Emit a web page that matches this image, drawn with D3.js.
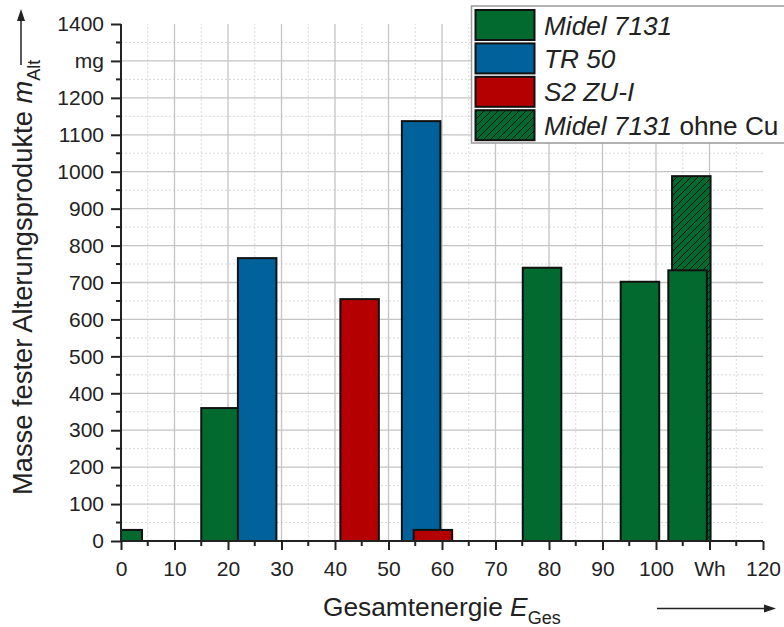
<!DOCTYPE html>
<html>
<head>
<meta charset="utf-8">
<script src="https://cdn.jsdelivr.net/npm/d3@7"></script>
<style>
  html, body { margin: 0; padding: 0; background: #fff; }
  svg { display: block; font-family: "Liberation Sans", Arial, sans-serif; }
</style>
</head>
<body>
<svg id="chart" width="784" height="627"></svg>
<script>
// Mass of solid ageing products vs. total energy, per insulating liquid
const midelEnergy = [0.33, 18.6, 78.7, 97.0, 105.9];
const midelMass   = [30, 360, 740, 702, 733];
const tr50Energy  = [25.45, 56.1];
const tr50Mass    = [766, 1137];
const s2Energy    = [44.6, 58.3];
const s2Mass      = [655, 30];
const midelNoCuEnergy = [106.6];
const midelNoCuMass   = [988];
const barWidthWh = 7.2;

const xTickValues = [0, 10, 20, 30, 40, 50, 60, 70, 80, 90, 100, 110, 120];
const xTickLabels = ["0", "10", "20", "30", "40", "50", "60", "70", "80", "90", "100", "Wh", "120"];
const yTickValues = [0, 100, 200, 300, 400, 500, 600, 700, 800, 900, 1000, 1100, 1200, 1300, 1400];
const yTickLabels = ["0", "100", "200", "300", "400", "500", "600", "700", "800", "900", "1000", "1100", "1200", "mg", "1400"];

const legendItems = [
  { key: "midel", name: "Midel 7131", extra: "" },
  { key: "tr50", name: "TR 50", extra: "" },
  { key: "s2", name: "S2 ZU-I", extra: "" },
  { key: "nocu", name: "Midel 7131", extra: " ohne Cu" }
];

const colors = { midel: "#036a2f", tr50: "#01619a", s2: "#b40000" };
const FONT = "'Liberation Sans', Arial, sans-serif";

const svg = d3.select("#chart");
const x = d3.scaleLinear().domain([0, 120]).range([121, 763]);
const y = d3.scaleLinear().domain([0, 1400]).range([541, 24]);

const defs = svg.append("defs");
const pat = defs.append("pattern")
  .attr("id", "hatch").attr("patternUnits", "userSpaceOnUse")
  .attr("width", 7).attr("height", 7);
pat.append("rect").attr("width", 7).attr("height", 7).attr("fill", colors.midel);
pat.append("path")
  .attr("d", "M-1.75,1.75 l3.5,-3.5 M0,7 l7,-7 M5.25,8.75 l3.5,-3.5")
  .attr("stroke", "#111").attr("stroke-width", 1);

defs.append("clipPath").attr("id", "plotClip")
  .append("rect").attr("x", x(0)).attr("y", 0).attr("width", x(120) - x(0)).attr("height", y(0) + 2);

// Grid
const grid = svg.append("g");
const minorX = d3.range(5, 120, 10);
const majorX = d3.range(10, 120, 10);
const minorY = d3.range(50, 1400, 100);
const majorY = d3.range(100, 1400, 100);
grid.selectAll(".mx").data(minorX).join("line")
  .attr("x1", d => x(d)).attr("x2", d => x(d)).attr("y1", y(0)).attr("y2", y(1400))
  .attr("stroke", "#d9d9d9").attr("stroke-width", 1).attr("stroke-dasharray", "2,2");
grid.selectAll(".my").data(minorY).join("line")
  .attr("x1", x(0)).attr("x2", x(120)).attr("y1", d => y(d)).attr("y2", d => y(d))
  .attr("stroke", "#d9d9d9").attr("stroke-width", 1).attr("stroke-dasharray", "2,2");
grid.selectAll(".Mx").data(majorX).join("line")
  .attr("x1", d => x(d)).attr("x2", d => x(d)).attr("y1", y(0)).attr("y2", y(1400))
  .attr("stroke", "#c4c4c4").attr("stroke-width", 1.3);
grid.selectAll(".My").data(majorY).join("line")
  .attr("x1", x(0)).attr("x2", x(120)).attr("y1", d => y(d)).attr("y2", d => y(d))
  .attr("stroke", "#c4c4c4").attr("stroke-width", 1.3);

// Bars
const bars = svg.append("g").attr("clip-path", "url(#plotClip)");
function drawBars(energy, mass, fill) {
  const data = energy.map((e, i) => ({ e, m: mass[i] }));
  bars.append("g").selectAll("rect").data(data).join("rect")
    .attr("x", d => x(d.e - barWidthWh / 2))
    .attr("width", d => x(d.e + barWidthWh / 2) - x(d.e - barWidthWh / 2))
    .attr("y", d => y(d.m))
    .attr("height", d => y(0) - y(d.m))
    .attr("fill", fill)
    .attr("stroke", "#111").attr("stroke-width", 2);
}
drawBars(midelNoCuEnergy, midelNoCuMass, "url(#hatch)");
drawBars(midelEnergy, midelMass, colors.midel);
drawBars(tr50Energy, tr50Mass, colors.tr50);
drawBars(s2Energy, s2Mass, colors.s2);

// Axes
const xAxis = svg.append("g").attr("transform", `translate(0,${y(0)})`)
  .call(d3.axisBottom(x).tickValues(xTickValues).tickSize(9).tickPadding(11)
    .tickFormat((d, i) => xTickLabels[i]));
xAxis.append("g").selectAll("line").data(d3.range(5, 120, 10)).join("line")
  .attr("x1", d => x(d)).attr("x2", d => x(d)).attr("y1", 0).attr("y2", 5)
  .attr("stroke", "#222").attr("stroke-width", 2);

const yAxis = svg.append("g").attr("transform", `translate(${x(0)},0)`)
  .call(d3.axisLeft(y).tickValues(yTickValues).tickSize(10).tickPadding(7)
    .tickFormat((d, i) => yTickLabels[i]));
yAxis.append("g").selectAll("line").data(d3.range(50, 1400, 100)).join("line")
  .attr("x1", 0).attr("x2", -5).attr("y1", d => y(d)).attr("y2", d => y(d))
  .attr("stroke", "#222").attr("stroke-width", 2);

[xAxis, yAxis].forEach(a => {
  a.attr("font-family", FONT).attr("font-size", 21);
  a.select(".domain").attr("stroke", "#222").attr("stroke-width", 2)
    .attr("d", a === xAxis ? `M${x(0)},0H${x(120)}` : `M0,${y(0)}V${y(1400)}`);
  a.selectAll(".tick line").attr("stroke", "#222").attr("stroke-width", 2);
  a.selectAll(".tick text").attr("fill", "#222");
});
xAxis.selectAll(".tick text").attr("dy", 0).attr("y", 35);

// Axis titles
const xt = svg.append("text").attr("x", 323).attr("y", 615.5)
  .attr("font-size", 26.3).attr("fill", "#222");
xt.append("tspan").text("Gesamtenergie ");
xt.append("tspan").attr("font-style", "italic").text("E");
xt.append("tspan").attr("font-size", 18).attr("dy", 8).text("Ges");

const yt = svg.append("text").attr("transform", "translate(32,495) rotate(-90)")
  .attr("font-size", 27.3).attr("fill", "#222");
yt.append("tspan").text("Masse fester Alterungsprodukte ");
yt.append("tspan").attr("font-style", "italic").text("m");
yt.append("tspan").attr("font-size", 18).attr("dy", 8).text("Alt");

// Direction arrows
svg.append("line").attr("x1", 657).attr("x2", 766).attr("y1", 608.5).attr("y2", 608.5)
  .attr("stroke", "#222").attr("stroke-width", 1.5);
svg.append("path").attr("d", "M776,608.5 L764,604.5 L764,612.5 Z").attr("fill", "#222");
svg.append("line").attr("x1", 21).attr("x2", 21).attr("y1", 65).attr("y2", 20)
  .attr("stroke", "#222").attr("stroke-width", 1.5);
svg.append("path").attr("d", "M21,9 L17,21 L25,21 Z").attr("fill", "#222");

// Legend
const lg = svg.append("g");
lg.append("rect").attr("x", 471.5).attr("y", 6).attr("width", 330).attr("height", 137)
  .attr("fill", "#fff").attr("stroke", "#999").attr("stroke-width", 1.5);
legendItems.forEach((it, i) => {
  const top = 10 + i * 33.4;
  lg.append("rect").attr("x", 475.5).attr("y", top).attr("width", 59).attr("height", 30)
    .attr("fill", it.key === "nocu" ? "url(#hatch)" : colors[it.key])
    .attr("stroke", "#111").attr("stroke-width", 2);
  const t = lg.append("text").attr("x", 544).attr("y", top + 24.5)
    .attr("font-size", 26.2).attr("fill", "#222");
  t.append("tspan").attr("font-style", "italic").text(it.name);
  if (it.extra) t.append("tspan").text(it.extra);
});
</script>
</body>
</html>
